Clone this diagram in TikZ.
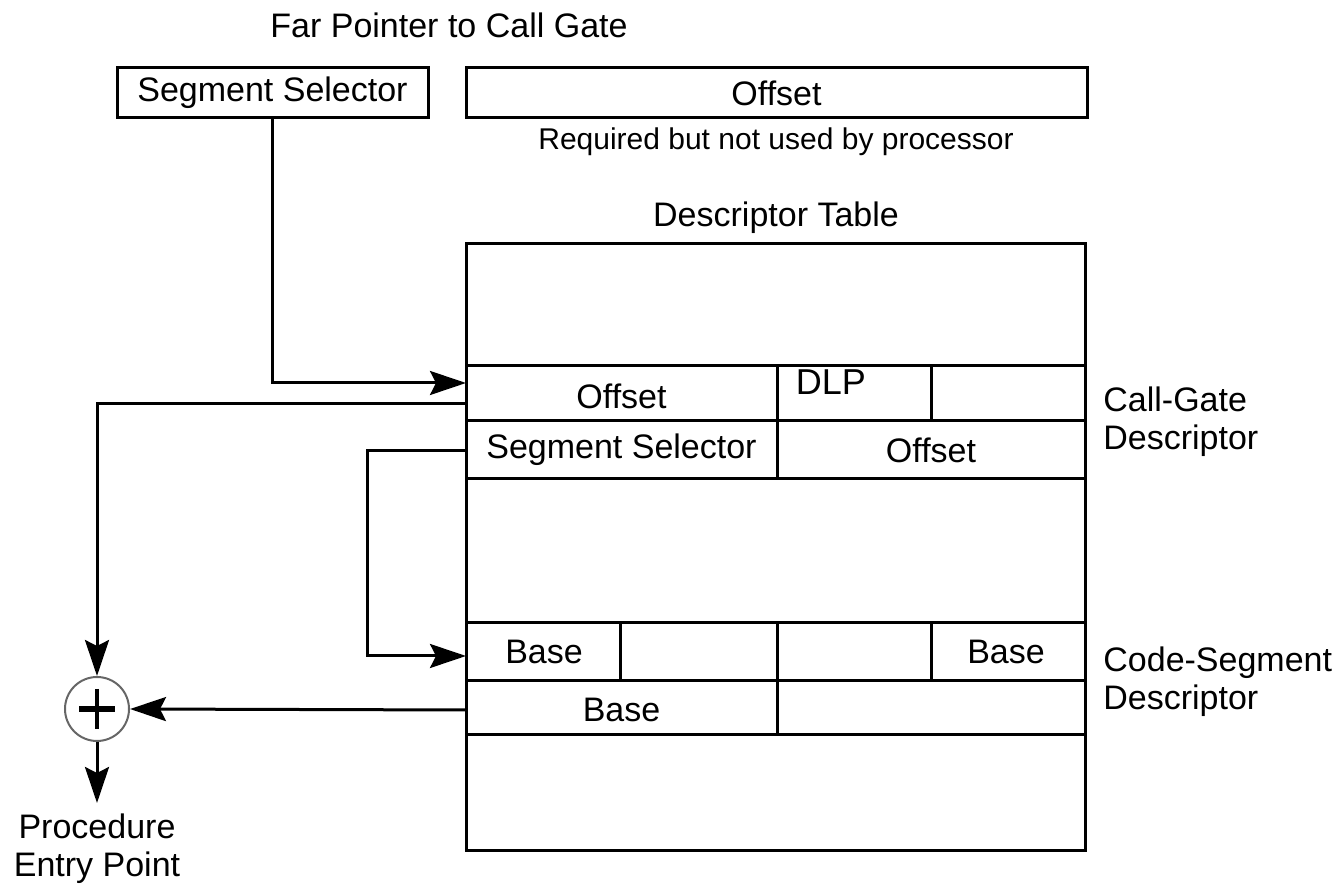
\documentclass[tikz,border=0pt]{standalone}
\usepackage{fontspec}
\setmainfont{Liberation Sans}
\usetikzlibrary{arrows.meta}
\begin{document}
\begin{tikzpicture}[x=0.5pt,y=-0.5pt,
  lbl/.style={font=\fontsize{17}{19}\selectfont, inner sep=0pt},
  small/.style={font=\fontsize{15}{17}\selectfont, inner sep=0pt},
  box/.style={draw, line width=1.5pt, inner sep=0pt, font=\fontsize{17}{19}\selectfont},
  conn/.style={line width=1.5pt},
  arr/.style={conn, -{Stealth[length=18pt,width=12pt,inset=3pt]}},
]
\useasboundingbox (0,0) rectangle (1340,886);

% top
\node[lbl] (far) at (449,25) {Far Pointer to Call Gate};
\node[box, minimum width=155.5pt, minimum height=25pt] (ss) at (272.5,93) {Segment Selector};
\node[box, minimum width=310.5pt, minimum height=25pt] (off) at (776.5,93) {Offset};
\node[small] (req) at (776,142) {Required but not used by processor};
\node[lbl] (dt) at (776,218) {Descriptor Table};

% table
\node[box, minimum width=309.5pt, minimum height=303.5pt] (tbl) at (775.5,547.5) {};
\foreach \yy in {366,421,479,623,681,735}
  \draw[conn] (466,\yy) -- (1085,\yy);
\draw[conn] (777,366) -- (777,479);
\draw[conn] (931,366) -- (931,421);
\draw[conn] (620,623) -- (620,681);
\draw[conn] (777,623) -- (777,735);
\draw[conn] (931,623) -- (931,681);

\node[lbl] (cgoff) at (621.5,396) {Offset};
\node[font=\fontsize{18}{20}\selectfont, inner sep=0pt] (dlp) at (831,382) {DLP};
\node[lbl] (cgsel) at (621.5,450) {Segment Selector};
\node[lbl] (cgoff2) at (931,450) {Offset};
\node[lbl] (b1) at (544,652) {Base};
\node[lbl] (b4) at (1006,652) {Base};
\node[lbl] (b2) at (621.5,710) {Base};

\node[lbl, align=left, anchor=west] (cgd) at (1103,422) {Call-Gate\\Descriptor};
\node[lbl, align=left, anchor=west] (csd) at (1103,682) {Code-Segment\\Descriptor};

% adder
\node[circle, draw=black!60, line width=1pt, minimum size=32pt, inner sep=0pt] (sum) at (97,709) {};
\draw[line width=2.6pt] (79,709) -- (115,709);
\draw[line width=1.8pt] (97,689) -- (97,729);
\node[lbl, align=center] (pep) at (97,849) {Procedure\\Entry Point};
\coordinate (pe) at (97,803);

% connectors
\coordinate (a1) at (466,383);
\coordinate (o1) at (466,404);
\coordinate (s1) at (466,451);
\coordinate (s2) at (466,656);
\coordinate (bb) at (466,710);
\draw[arr] (ss.south) |- (a1);
\draw[arr] (o1) -| (sum.north);
\draw[arr] (s1) -- (367,451) |- (s2);
\draw[arr] (bb) -- (sum.east);
\draw[arr] (sum.south) -- (pe);
\end{tikzpicture}
\end{document}
